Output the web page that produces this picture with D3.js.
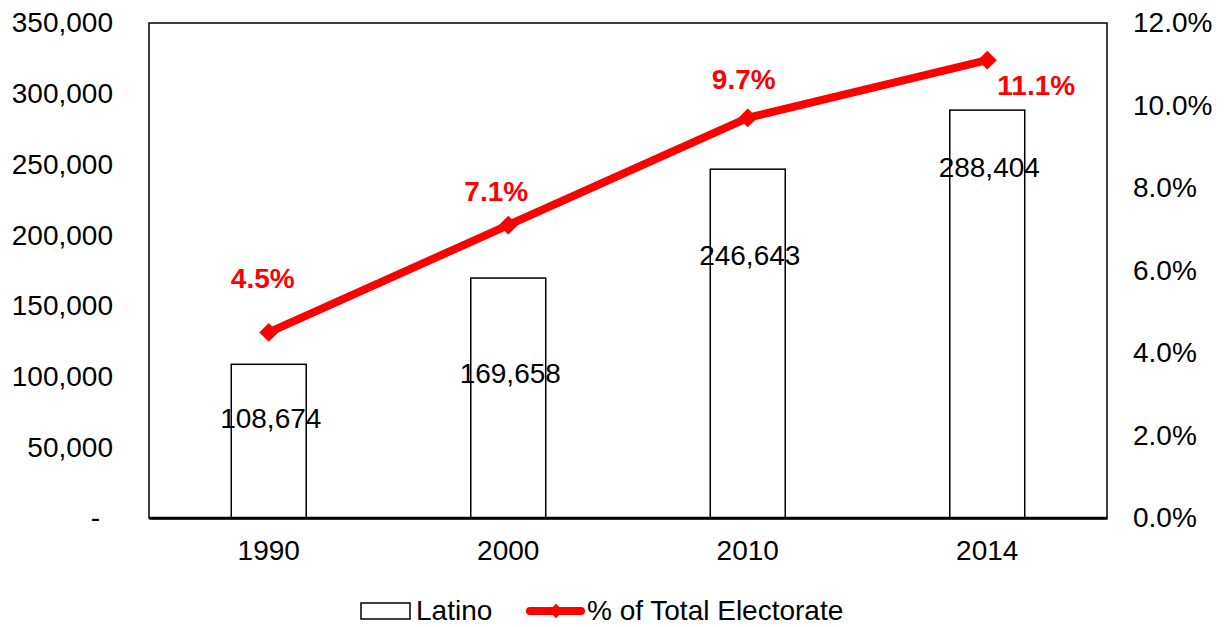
<!DOCTYPE html>
<html>
<head>
<meta charset="utf-8">
<script src="https://cdn.jsdelivr.net/npm/d3@7"></script>
<style>
  body { margin: 0; background: #fff; }
  svg { display: block; font-family: "Liberation Sans", Arial, sans-serif; }
</style>
</head>
<body>
<svg id="chart" width="1225" height="627"></svg>
<script>
// Data.
var years = ['1990', '2000', '2010', '2014'];
var latino = [108674, 169658, 246643, 288404];
var shareOfElectorate = [0.045, 0.071, 0.097, 0.111];
var leftTicks = [0, 50000, 100000, 150000, 200000, 250000, 300000, 350000];
var rightTicks = [0, 0.02, 0.04, 0.06, 0.08, 0.10, 0.12];

// Label nudges (pixels) to follow the hand-placed labels of the original.
var pctLabelDx = [-6, -12, -4, 49];
var pctLabelDy = [-44, -24, -29, 35];
var barLabelDy = [64, 105, 96, 67];

var svg = d3.select('#chart');
var frame = { left: 149, right: 1107, top: 23, bottom: 518 };
var fontSize = 28;

var x = d3.scaleBand()
  .domain(years)
  .range([frame.left, frame.right]);

var yLeft = d3.scaleLinear()
  .domain([0, 350000])
  .range([frame.bottom, frame.top]);

var yRight = d3.scaleLinear()
  .domain([0, 0.12])
  .range([frame.bottom, frame.top]);

var barWidth = x.bandwidth() * 0.313;
var cx = d => x(d) + x.bandwidth() / 2;

// Plot frame.
svg.append('rect')
  .attr('x', frame.left)
  .attr('y', frame.top)
  .attr('width', frame.right - frame.left)
  .attr('height', frame.bottom - frame.top)
  .style('fill', 'none')
  .style('stroke', '#000')
  .style('stroke-width', 1.5);

// Left axis.
var fmtLeft = d3.format(',');
var gLeft = svg.append('g')
  .attr('transform', 'translate(' + frame.left + ',0)')
  .call(d3.axisLeft(yLeft)
    .tickValues(leftTicks)
    .tickSize(0)
    .tickPadding(36)
    .tickFormat(d => d === 0 ? '-' : fmtLeft(d)));
gLeft.select('.domain').remove();
gLeft.selectAll('text')
  .style('font-size', fontSize + 'px')
  .style('fill', '#000')
  .attr('dx', d => d === 0 ? -13 : 0);

// Right axis.
var gRight = svg.append('g')
  .attr('transform', 'translate(' + frame.right + ',0)')
  .call(d3.axisRight(yRight)
    .tickValues(rightTicks)
    .tickSize(0)
    .tickPadding(26)
    .tickFormat(d3.format('.1%')));
gRight.select('.domain').remove();
gRight.selectAll('text')
  .style('font-size', fontSize + 'px')
  .style('fill', '#000');

// Bottom axis.
var gBottom = svg.append('g')
  .attr('transform', 'translate(0,' + frame.bottom + ')')
  .call(d3.axisBottom(x).tickSize(0).tickPadding(22));
gBottom.select('.domain')
  .style('stroke', '#000')
  .style('stroke-width', 2.5);
gBottom.selectAll('text')
  .style('font-size', fontSize + 'px')
  .style('fill', '#000');

// Bars.
var bars = years.map((d, i) => ({ year: d, value: latino[i], i: i }));
svg.append('g').selectAll('rect')
  .data(bars)
  .join('rect')
  .attr('x', d => cx(d.year) - barWidth / 2)
  .attr('y', d => yLeft(d.value))
  .attr('width', barWidth)
  .attr('height', d => yLeft(0) - yLeft(d.value))
  .style('fill', '#fff')
  .style('stroke', '#000')
  .style('stroke-width', 1.5);

// Re-draw bottom line above the bars.
svg.append('line')
  .attr('x1', frame.left)
  .attr('x2', frame.right)
  .attr('y1', frame.bottom)
  .attr('y2', frame.bottom)
  .style('stroke', '#000')
  .style('stroke-width', 2.5);

// Bar labels.
svg.append('g').selectAll('text')
  .data(bars)
  .join('text')
  .attr('x', d => cx(d.year) + 2)
  .attr('y', d => yLeft(d.value) + barLabelDy[d.i])
  .style('text-anchor', 'middle')
  .style('font-size', fontSize + 'px')
  .style('fill', '#000')
  .text(d => fmtLeft(d.value));

// Share line.
var points = years.map((d, i) => ({ year: d, value: shareOfElectorate[i], i: i }));
var line = d3.line()
  .x(d => cx(d.year))
  .y(d => yRight(d.value));

svg.append('path')
  .datum(points)
  .attr('d', line)
  .style('fill', 'none')
  .style('stroke', '#ff0000')
  .style('stroke-width', 8)
  .style('stroke-linejoin', 'round');

var diamond = d3.symbol().type(d3.symbolDiamond2).size(230);
svg.append('g').selectAll('path')
  .data(points)
  .join('path')
  .attr('transform', d => 'translate(' + cx(d.year) + ',' + yRight(d.value) + ')')
  .attr('d', diamond)
  .style('fill', '#ff0000');

// Share labels.
svg.append('g').selectAll('text')
  .data(points)
  .join('text')
  .attr('x', d => cx(d.year) + pctLabelDx[d.i])
  .attr('y', d => yRight(d.value) + pctLabelDy[d.i])
  .style('text-anchor', 'middle')
  .style('font-size', '28px')
  .style('font-weight', 'bold')
  .style('fill', '#ff0000')
  .text(d => d3.format('.1%')(d.value));

// Legend.
var legend = svg.append('g');
legend.append('rect')
  .attr('x', 361)
  .attr('y', 603)
  .attr('width', 49)
  .attr('height', 16)
  .style('fill', '#fff')
  .style('stroke', '#000')
  .style('stroke-width', 1.5);
legend.append('text')
  .attr('x', 416)
  .attr('y', 620)
  .style('font-size', fontSize + 'px')
  .text('Latino');
legend.append('line')
  .attr('x1', 530)
  .attr('x2', 581)
  .attr('y1', 611)
  .attr('y2', 611)
  .style('stroke', '#ff0000')
  .style('stroke-width', 8)
  .style('stroke-linecap', 'round');
legend.append('path')
  .attr('transform', 'translate(556,611)')
  .attr('d', d3.symbol().type(d3.symbolDiamond2).size(130))
  .style('fill', '#ff0000');
legend.append('text')
  .attr('x', 587)
  .attr('y', 620)
  .style('font-size', fontSize + 'px')
  .text('% of Total Electorate');
</script>
</body>
</html>
